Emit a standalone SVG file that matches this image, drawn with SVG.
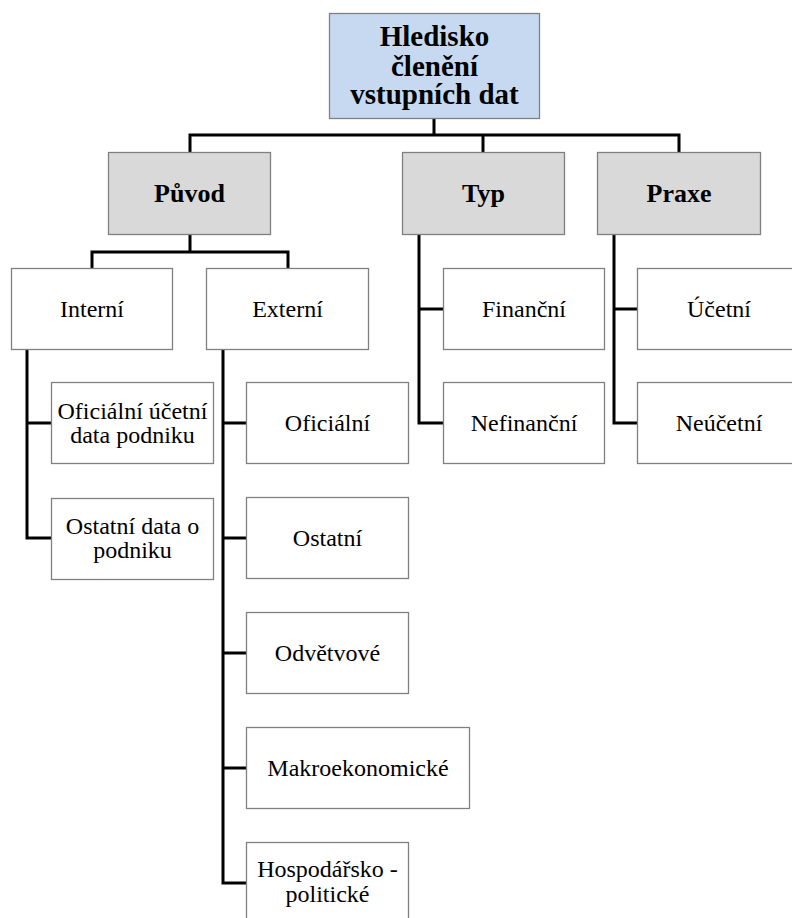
<svg xmlns="http://www.w3.org/2000/svg" width="792" height="918" viewBox="0 0 792 918">
  <style>
    .box { stroke: #808080; stroke-width: 1.3; }
    .root { fill: #c6d9f1; }
    .cat { fill: #d9d9d9; }
    .leaf { fill: #ffffff; }
    .wire { fill: none; stroke: #000000; stroke-width: 3; stroke-linecap: square; stroke-linejoin: miter; }
  </style>
  <rect x="0" y="0" width="792" height="918" fill="#ffffff"/>

  <!-- connectors -->
  <g id="connectors" class="wire">
    <path d="M434 119 V135 M190 135 H679 M190 135 V151 M483 135 V151 M679 135 V151"/>
    <path d="M190 235 V252 M92 252 H288 M92 252 V267 M288 252 V267"/>
    <path d="M27 350 V538 M27 423 H50 M27 538 H50"/>
    <path d="M223 350 V883 M223 423 H245 M223 538 H245 M223 653 H245 M223 768 H245 M223 883 H245"/>
    <path d="M419 235 V423 M419 309 H442 M419 423 H442"/>
    <path d="M614 235 V423 M614 309 H636 M614 423 H636"/>
  </g>

  <!-- root -->
  <g id="node-root">
    <rect class="box root" x="329.5" y="13.5" width="210" height="105"/>
    <text font-family="Liberation Serif" font-size="29" font-weight="bold" text-anchor="middle" x="434.5" y="46">Hledisko</text>
    <text font-family="Liberation Serif" font-size="29" font-weight="bold" text-anchor="middle" x="434.5" y="76">členění</text>
    <text font-family="Liberation Serif" font-size="29" font-weight="bold" text-anchor="middle" x="434.5" y="104">vstupních dat</text>
  </g>

  <!-- categories -->
  <g id="node-puvod">
    <rect class="box cat" x="108.5" y="152.5" width="162" height="82"/>
    <text font-family="Liberation Serif" font-size="26" font-weight="bold" text-anchor="middle" x="189.5" y="202">Původ</text>
  </g>
  <g id="node-typ">
    <rect class="box cat" x="402.5" y="152.5" width="162" height="82"/>
    <text font-family="Liberation Serif" font-size="26" font-weight="bold" text-anchor="middle" x="483.5" y="202">Typ</text>
  </g>
  <g id="node-praxe">
    <rect class="box cat" x="597.5" y="152.5" width="163" height="82"/>
    <text font-family="Liberation Serif" font-size="26" font-weight="bold" text-anchor="middle" x="679" y="202">Praxe</text>
  </g>

  <!-- origin -->
  <g id="node-interni">
    <rect class="box leaf" x="11.5" y="268.5" width="161" height="81"/>
    <text font-family="Liberation Serif" font-size="24" text-anchor="middle" x="92" y="317">Interní</text>
  </g>
  <g id="node-externi">
    <rect class="box leaf" x="206.5" y="268.5" width="162" height="81"/>
    <text font-family="Liberation Serif" font-size="24" text-anchor="middle" x="287.5" y="317">Externí</text>
  </g>

  <g id="node-oficialni-ucetni">
    <rect class="box leaf" x="51.5" y="382.5" width="162" height="81"/>
    <text font-family="Liberation Serif" font-size="24" text-anchor="middle" x="132.5" y="419">Oficiální účetní</text>
    <text font-family="Liberation Serif" font-size="24" text-anchor="middle" x="132.5" y="443">data podniku</text>
  </g>
  <g id="node-ostatni-data">
    <rect class="box leaf" x="51.5" y="498.5" width="162" height="81"/>
    <text font-family="Liberation Serif" font-size="24" text-anchor="middle" x="132.5" y="534">Ostatní data o</text>
    <text font-family="Liberation Serif" font-size="24" text-anchor="middle" x="132.5" y="558">podniku</text>
  </g>

  <g id="node-oficialni">
    <rect class="box leaf" x="246.5" y="382.5" width="162" height="81"/>
    <text font-family="Liberation Serif" font-size="24" text-anchor="middle" x="327.5" y="431">Oficiální</text>
  </g>
  <g id="node-ostatni">
    <rect class="box leaf" x="246.5" y="497.5" width="162" height="81"/>
    <text font-family="Liberation Serif" font-size="24" text-anchor="middle" x="327.5" y="546">Ostatní</text>
  </g>
  <g id="node-odvetvove">
    <rect class="box leaf" x="246.5" y="612.5" width="162" height="81"/>
    <text font-family="Liberation Serif" font-size="24" text-anchor="middle" x="327.5" y="661">Odvětvové</text>
  </g>
  <g id="node-makro">
    <rect class="box leaf" x="246.5" y="727.5" width="223" height="81"/>
    <text font-family="Liberation Serif" font-size="24" text-anchor="middle" x="358" y="776">Makroekonomické</text>
  </g>
  <g id="node-hospodarsko">
    <rect class="box leaf" x="246.5" y="842.5" width="162" height="81"/>
    <text font-family="Liberation Serif" font-size="24" text-anchor="middle" x="327.5" y="877">Hospodářsko -</text>
    <text font-family="Liberation Serif" font-size="24" text-anchor="middle" x="327.5" y="902">politické</text>
  </g>

  <!-- type -->
  <g id="node-financni">
    <rect class="box leaf" x="443.5" y="268.5" width="161" height="81"/>
    <text font-family="Liberation Serif" font-size="24" text-anchor="middle" x="524" y="317">Finanční</text>
  </g>
  <g id="node-nefinancni">
    <rect class="box leaf" x="443.5" y="382.5" width="161" height="81"/>
    <text font-family="Liberation Serif" font-size="24" text-anchor="middle" x="524" y="431">Nefinanční</text>
  </g>

  <!-- practice -->
  <g id="node-ucetni">
    <rect class="box leaf" x="637.5" y="268.5" width="163" height="81"/>
    <text font-family="Liberation Serif" font-size="24" text-anchor="middle" x="719" y="317">Účetní</text>
  </g>
  <g id="node-neucetni">
    <rect class="box leaf" x="637.5" y="382.5" width="163" height="81"/>
    <text font-family="Liberation Serif" font-size="24" text-anchor="middle" x="719" y="431">Neúčetní</text>
  </g>
</svg>
